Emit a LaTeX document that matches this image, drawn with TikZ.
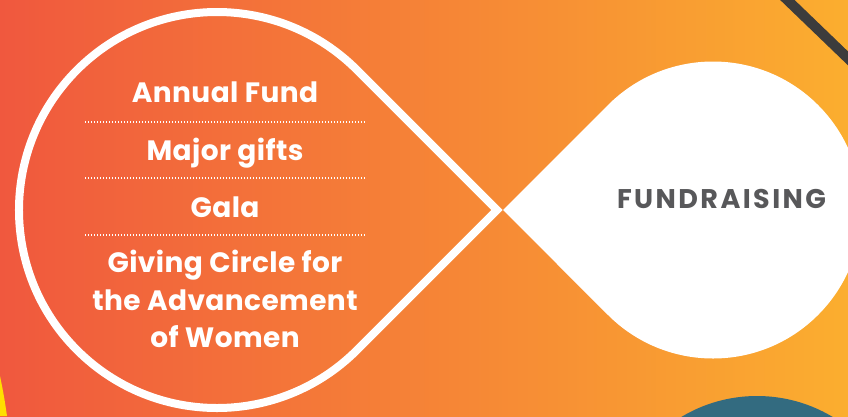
\documentclass[tikz,border=0pt]{standalone}
\usepackage{fontspec}
\setmainfont{Poppins}
\newfontfamily\itemfont[LetterSpace=1.5]{Poppins}
\newfontfamily\titlefont[LetterSpace=9]{Poppins}
\definecolor{bgleft}{HTML}{F0583E}
\definecolor{bgright}{HTML}{FBAE2F}
\definecolor{darkline}{HTML}{3C3C3C}
\definecolor{tealc}{HTML}{336B80}
\definecolor{yell}{HTML}{FFE000}
\definecolor{graytext}{HTML}{58585A}
\begin{document}
\begin{tikzpicture}[x=1pt,y=1pt,
  itemtext/.style={text=white,font=\itemfont\fontsize{28}{38}\selectfont\bfseries,anchor=base,align=center,inner sep=0pt},
  sep/.style={white,line width=1.3pt,dash pattern=on 1.3pt off 1.7pt},
  outline/.style={draw=white,line width=8pt,line join=miter}]
\useasboundingbox (0,0) rectangle (848,416);
\shade[left color=bgleft,right color=bgright] (0,0) rectangle (848,416);
% decorations
\fill[yell] (0,416-376) .. controls (3,416-390) and (5,416-402) .. (7,0) -- (0,0) -- cycle;
\fill[tealc] (757,-127) circle (147);
\draw[darkline,line width=10pt] (777,426) -- (858,348);
% right filled teardrop
\fill[white] (503,206) -- (608,311) arc (135:-135:148.5) -- cycle;
% left outline teardrop
\draw[outline] (497,206) -- (357,346) arc (45:315:198) -- cycle;
% texts
\node[itemtext] (t1) at (225,314) {Annual Fund};
\node[itemtext] (t2) at (225,256) {Major gifts};
\node[itemtext] (t3) at (225,199) {Gala};
\node[itemtext] (t4) at (225,144) {Giving Circle for};
\node[itemtext] (t5) at (225,106) {the Advancement};
\node[itemtext] (t6) at (225,69) {of Women};
\coordinate (d1a) at (85,294); \coordinate (d1b) at (365,294);
\coordinate (d2a) at (85,238); \coordinate (d2b) at (365,238);
\coordinate (d3a) at (85,181); \coordinate (d3b) at (365,181);
\draw[sep] (d1a) -- (d1b);
\draw[sep] (d2a) -- (d2b);
\draw[sep] (d3a) -- (d3b);
\node[text=graytext,font=\titlefont\fontsize{27}{30}\selectfont\bfseries,anchor=base,inner sep=0pt] (fr) at (721.5,208) {FUNDRAISING};
\end{tikzpicture}
\end{document}
